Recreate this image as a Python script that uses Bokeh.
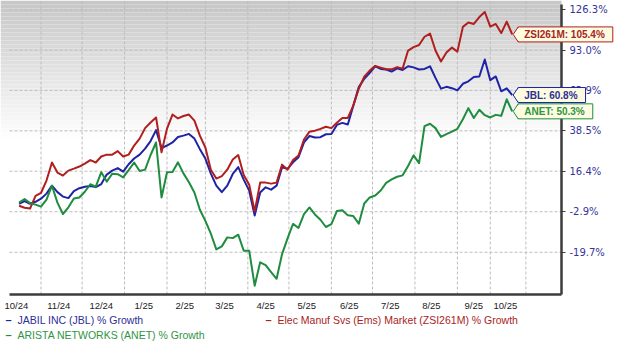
import numpy as np
import pandas as pd
from bokeh.plotting import figure
from bokeh.models import (Range1d, FixedTicker, CustomJSTickFormatter, BoxAnnotation,
                          Label, PolyAnnotation, ColumnDataSource)
from bokeh.embed import file_html
from bokeh.resources import INLINE

# ---------------- data ----------------
DATES = pd.date_range("2024-10-16", periods=91, freq="4D")

JBL = [0.7, 1.9, 0.7, 1.6, 3.0, 5.4, 9.2, 6.1, 4.0, 3.3,
       6.6, 8.0, 8.7, 9.0, 8.5, 10.0, 14.7, 16.7, 18.0, 16.2,
       20.0, 23.0, 25.1, 28.4, 32.6, 38.9, 28.7, 30.1, 31.8, 34.9,
       35.7, 36.7, 34.0, 28.1, 23.0, 15.2, 9.2, 6.1, 9.2, 15.0,
       18.5, 12.2, 6.8, -4.6, 5.9, 8.4, 7.3, 9.2, 18.4, 17.6,
       21.0, 23.7, 31.9, 35.5, 34.6, 34.8, 36.5, 36.7, 42.0, 43.2,
       42.2, 53.9, 66.1, 71.9, 76.0, 80.7, 78.9, 78.5, 77.0, 79.3,
       78.1, 80.8, 80.0, 78.5, 78.9, 80.8, 72.5, 65.1, 66.3, 65.4,
       63.9, 68.4, 70.1, 73.1, 73.5, 85.8, 70.9, 73.5, 63.3, 65.3,
       60.8]

ZSI = [-0.2, -1.1, -1.5, 4.3, 5.7, 11.7, 20.9, 15.7, 14.2, 16.7,
       17.7, 18.8, 20.3, 22.2, 20.9, 24.1, 25.1, 25.1, 27.0, 24.1,
       25.1, 30.1, 34.0, 40.1, 43.4, 46.5, 26.4, 39.8, 48.3, 45.9,
       47.4, 48.3, 44.6, 35.7, 29.0, 17.2, 12.7, 13.9, 17.2, 22.5,
       24.9, 14.5, 9.7, -2.8, 10.7, 10.7, 10.2, 10.7, 19.8, 17.2,
       22.2, 24.6, 33.5, 38.0, 38.6, 39.6, 40.9, 40.1, 43.3, 46.2,
       46.2, 53.9, 65.0, 73.4, 77.7, 81.1, 79.8, 78.6, 78.6, 80.2,
       79.1, 92.6, 95.3, 96.9, 103.5, 106.1, 92.6, 84.3, 91.1, 94.9,
       91.8, 111.6, 115.3, 114.1, 120.0, 124.4, 111.9, 114.1, 106.5, 116.1,
       105.4]

ANET = [1.2, 2.9, 1.0, 0.3, -0.6, 2.6, 9.2, 1.2, -3.9, -0.9,
        3.1, 3.6, 6.3, 9.9, 8.7, 15.9, 11.2, 15.1, 14.9, 13.3,
        17.0, 20.9, 16.5, 17.2, 24.9, 31.8, 3.6, 15.9, 16.0, 21.0,
        15.3, 10.9, 5.9, -2.0, -6.9, -12.3, -18.6, -17.4, -13.8, -14.1,
        -12.7, -19.1, -19.1, -31.9, -23.5, -24.6, -27.1, -29.5, -20.4, -14.2,
        -8.2, -9.9, -4.0, -1.0, -4.1, -6.4, -9.5, -8.3, -2.6, -2.2,
        -4.5, -4.8, -8.1, 0.8, 3.6, 4.5, 6.9, 10.6, 12.3, 13.6,
        14.3, 19.1, 24.7, 20.6, 41.3, 42.7, 40.1, 35.0, 36.6, 38.0,
        39.7, 45.4, 52.3, 46.2, 51.3, 47.9, 46.5, 48.1, 47.5, 58.0,
        50.3]

Y_TICK_PCT = [-19.7, -2.9, 16.4, 38.5, 63.9, 93.0, 126.3]
X_LABEL_DATES = ["2024-10-14", "2024-11-14", "2024-12-15", "2025-01-15", "2025-02-14",
                 "2025-03-15", "2025-04-14", "2025-05-14", "2025-06-14", "2025-07-14",
                 "2025-08-13", "2025-09-13", "2025-10-06"]
X_GRID_DATES = ["2024-11-01", "2024-12-01", "2025-01-01", "2025-02-01", "2025-03-01",
                "2025-04-01", "2025-05-01", "2025-06-01", "2025-07-01", "2025-08-01",
                "2025-09-01", "2025-09-25", "2025-10-21"]

NAMES = ["JABIL INC (JBL) % Growth",
         "Elec Manuf Svs (Ems) Market (ZSI261M) % Growth",
         "ARISTA NETWORKS (ANET) % Growth"]
TAGS = ["JBL", "ZSI261M", "ANET"]

# ---------------- styling / layout ----------------
BASE = 132.6            # growth index offset used by the log scale
PCT_MIN, PCT_MAX = -34.9, 134.7      # values at the plot bottom / top edges
W, H = 620, 344
AX_L, AX_R, AX_B = 9, 561, 294       # plot box inside the canvas (px)
C_BLUE, C_RED, C_GREEN = "#1e23a6", "#b01e1e", "#1f8c3f"
T_BLUE, T_RED, T_GREEN = "#2e2e96", "#a82424", "#2f9444"
FILL = "#fdfce1"
AXIS_C = "#3c3c3c"
GRID_C = "#bdbdbd"


def ms(d):
    return pd.Timestamp(d).value / 1e6


XA, XB = ms("2024-10-09"), ms("2025-11-16")          # dates at AX_L and AX_R
YA, YB = PCT_MIN + BASE, PCT_MAX + BASE              # values at AX_B and top
PX_MS = (XB - XA) / (AX_R - AX_L)
PX_LN = AX_B / np.log(YB / YA)
X_START = XA - AX_L * PX_MS
X_END = XB + (W - AX_R) * PX_MS
Y_BOT = YA * np.exp(-(H - AX_B) / PX_LN)

p = figure(width=W, height=H, x_axis_type="datetime", y_axis_type="log",
           x_range=Range1d(X_START, X_END), y_range=Range1d(Y_BOT, YB),
           y_axis_location="right", output_backend="svg", toolbar_location=None,
           min_border=0)
p.outline_line_color = None
p.border_fill_color = "white"
p.background_fill_color = "white"
p.xgrid.visible = False
p.ygrid.visible = False

# vertical gradient at top of plot
step = 4
for i in range(36):
    t = YB * np.exp(-(i * step) / PX_LN)
    b = YB * np.exp(-((i + 1) * step) / PX_LN)
    g = int(round(198 + 57 * min(1.0, (i * step + 2) / 140.0)))
    p.add_layout(BoxAnnotation(top=t, bottom=b, right=XB, fill_color=(g, g, g),
                               fill_alpha=1.0, line_color=None, level="image"))

# dashed grid lines
gx = [ms(d) for d in X_GRID_DATES]
p.segment(x0=gx, y0=[YA] * len(gx), x1=gx, y1=[YB] * len(gx),
          line_color=GRID_C, line_dash="3 2", line_width=1, level="underlay")
gy = [v + BASE for v in Y_TICK_PCT]
p.segment(x0=[XA] * len(gy), y0=gy, x1=[XB] * len(gy), y1=gy,
          line_color=GRID_C, line_dash="3 2", line_width=1, level="underlay")

# y axis (right side, fixed at plot edge)
p.yaxis.fixed_location = XB
p.yaxis.bounds = (YA, YB * np.exp(-4 / PX_LN))
p.yaxis.ticker = FixedTicker(ticks=gy)
p.yaxis.formatter = CustomJSTickFormatter(code=f"return (tick - {BASE}).toFixed(1) + '%';")
p.yaxis.axis_line_color = AXIS_C
p.yaxis.axis_line_width = 2.5
p.yaxis.major_tick_line_color = AXIS_C
p.yaxis.major_tick_out = 4
p.yaxis.major_tick_in = 0
p.yaxis.minor_tick_line_color = None
p.yaxis.major_label_standoff = 4
p.yaxis.major_label_text_color = "#34349a"
p.yaxis.major_label_text_font = "DejaVu Sans"
p.yaxis.major_label_text_font_size = "10px"

# x axis (fixed at plot bottom)
p.xaxis.fixed_location = YA
p.xaxis.bounds = (XA, XB)
p.xaxis.ticker = FixedTicker(ticks=[ms(d) for d in X_LABEL_DATES])
p.xaxis.formatter = CustomJSTickFormatter(code="""
const d = new Date(tick);
return (d.getUTCMonth() + 1) + "/" + String(d.getUTCFullYear()).slice(2);
""")
p.xaxis.axis_line_color = AXIS_C
p.xaxis.axis_line_width = 2.5
p.xaxis.major_tick_line_color = None
p.xaxis.minor_tick_line_color = None
p.xaxis.major_tick_out = 0
p.xaxis.major_tick_in = 0
p.xaxis.major_label_standoff = 5
p.xaxis.major_label_text_color = "#222222"
p.xaxis.major_label_text_font = "Liberation Sans"
p.xaxis.major_label_text_font_size = "9.5px"

# lines
series = [(JBL, C_BLUE), (ZSI, C_RED), (ANET, C_GREEN)]
for vals, col in series:
    src = ColumnDataSource(dict(x=DATES, y=[v + BASE for v in vals]))
    p.line("x", "y", source=src, line_color=col, line_width=2, line_join="round")

# end-value callouts
last_ms = DATES[-1].value / 1e6
for tag, (vals, col), tcol in zip(TAGS, series, [T_BLUE, T_RED, T_GREEN]):
    yv = vals[-1] + BASE
    tip = last_ms + 1 * PX_MS
    bl = tip + 5 * PX_MS
    hh = 7.5
    top = yv * np.exp(hh / PX_LN)
    bot = yv * np.exp(-hh / PX_LN)
    p.add_layout(Label(x=tip, y=yv, x_offset=5, text=f"{tag}: {vals[-1]:.1f}%",
                       text_align="left", text_baseline="middle",
                       text_font="Liberation Sans", text_font_size="10px",
                       text_font_style="bold", text_color=tcol,
                       background_fill_color=FILL, background_fill_alpha=1.0,
                       border_line_color=col, border_line_width=1,
                       padding=dict(left=6, right=8, top=2, bottom=2)))
    in_top = yv * np.exp((hh - 0.8) / PX_LN)
    in_bot = yv * np.exp(-(hh - 0.8) / PX_LN)
    p.add_layout(PolyAnnotation(xs=[tip, bl, bl + 2 * PX_MS, bl + 2 * PX_MS, bl],
                                ys=[yv, in_top, in_top, in_bot, in_bot],
                                fill_color=FILL, fill_alpha=1.0, line_color=None))
    p.segment(x0=[tip, tip], y0=[yv, yv], x1=[bl, bl], y1=[top, bot],
              line_color=col, line_width=1, level="overlay")

# legend below the chart (screen px from the canvas bottom-left)
legend = [(NAMES[0], T_BLUE, C_BLUE, 5, H - 319),
          (NAMES[1], T_RED, C_RED, 265, H - 319),
          (NAMES[2], T_GREEN, C_GREEN, 5, H - 334)]
for txt, tcol, dcol, lx, ly in legend:
    p.add_layout(Label(x=lx, y=ly, x_units="screen", y_units="screen", text="–",
                       text_font="Liberation Sans", text_font_size="11px",
                       text_font_style="bold", text_color=dcol, text_baseline="middle"))
    p.add_layout(Label(x=lx + 12, y=ly, x_units="screen", y_units="screen", text=txt,
                       text_font="Liberation Sans", text_font_size="10.5px",
                       text_color=tcol, text_baseline="middle"))

open("out.html", "w").write(file_html(p, INLINE))
